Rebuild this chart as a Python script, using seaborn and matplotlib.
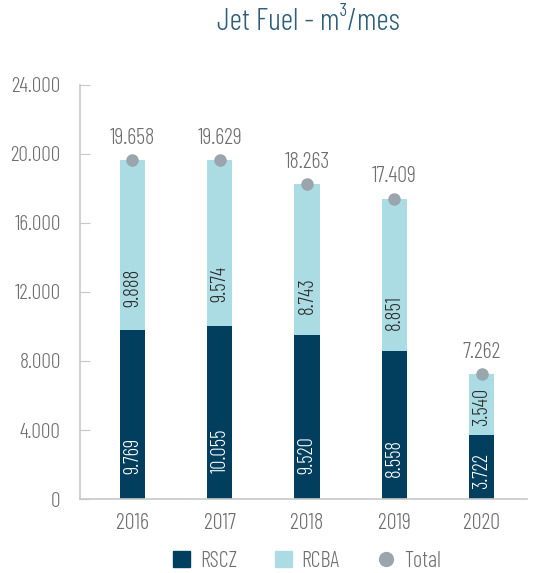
import numpy as np
import matplotlib
matplotlib.use("Agg")
import matplotlib.pyplot as plt
from matplotlib import font_manager as fm
from matplotlib.patches import Patch
from matplotlib.lines import Line2D
from matplotlib.ticker import FuncFormatter
import seaborn as sns

years = ["2016", "2017", "2018", "2019", "2020"]
rscz = [9769, 10055, 9520, 8558, 3722]
rcba = [9888, 9574, 8743, 8851, 3540]
total = [19658, 19629, 18263, 17409, 7262]

NAVY = "#023f5f"
LIGHT = "#acdce3"
DOT = "#9aa5ae"
GREY_TXT = "#6e6e6e"
TITLE_C = "#2c5f7b"

sns.set_style("white")

# fuente condensada si existe
disponibles = {f.name for f in fm.fontManager.ttflist}
fuente = "DejaVu Sans"
for cand in ["Barlow Condensed", "Roboto Condensed", "Saira Condensed",
             "PT Sans Narrow", "Archivo Narrow", "Liberation Sans Narrow"]:
    if cand in disponibles:
        fuente = cand
        break
plt.rcParams["font.family"] = [fuente, "DejaVu Sans"]
plt.rcParams["font.weight"] = 300


def fmt(v):
    return f"{v:,.0f}".replace(",", ".")


fig = plt.figure(figsize=(5.34, 5.73), dpi=100)
ax = fig.add_axes([0.150, 0.129, 0.837, 0.723])

stack_top = [a + b for a, b in zip(rscz, rcba)]
sns.barplot(x=years, y=stack_top, color=LIGHT, width=0.29, saturation=1,
            linewidth=0, ax=ax)
sns.barplot(x=years, y=rscz, color=NAVY, width=0.29, saturation=1,
            linewidth=0, ax=ax)
ax.plot(range(len(years)), total, "o", color=DOT, ms=8, zorder=5)

# etiquetas
for i in range(len(years)):
    ax.text(i, rscz[i] * 0.15, fmt(rscz[i]), rotation=90, ha="center", va="bottom",
            color="white", fontsize=15)
    ax.text(i, rscz[i] + rcba[i] * 0.14, fmt(rcba[i]), rotation=90, ha="center",
            va="bottom", color="#2b2b2b", fontsize=15)
    ax.annotate(fmt(total[i]), (i, total[i]), xytext=(0, 8), textcoords="offset points",
                ha="center", va="bottom", color=GREY_TXT, fontsize=16)

ax.set_ylim(0, 24000)
ax.set_xlim(-0.6, 4.52)
ax.set_yticks(np.arange(0, 24001, 4000))
ax.yaxis.set_major_formatter(FuncFormatter(lambda v, p: fmt(v)))
ax.set_xlabel("")
ax.set_ylabel("")

for s in ["top", "right"]:
    ax.spines[s].set_visible(False)
for s in ["left", "bottom"]:
    ax.spines[s].set_color("#c8c8c8")
    ax.spines[s].set_linewidth(1.2)

ax.tick_params(axis="y", direction="in", length=7, color="#c8c8c8", pad=14,
               labelsize=15.5, labelcolor=GREY_TXT, left=True)
ax.tick_params(axis="x", length=0, pad=10, labelsize=16, labelcolor=GREY_TXT)

fig.text(0.577, 0.962, "Jet Fuel - m³/mes", ha="center", va="center",
         fontsize=22, color=TITLE_C)

handles = [
    Patch(color=NAVY, label="RSCZ"),
    Patch(color=LIGHT, label="RCBA"),
    Line2D([], [], marker="o", ls="none", color=DOT, ms=10, label="Total"),
]
ax.legend(handles=handles, loc="center", bbox_to_anchor=(0.508, -0.15), ncol=3,
          frameon=False, fontsize=16, handlelength=0.75, handleheight=0.75,
          handletextpad=0.45, columnspacing=1.7, labelcolor=GREY_TXT)

fig.savefig("out.png", dpi=100)
